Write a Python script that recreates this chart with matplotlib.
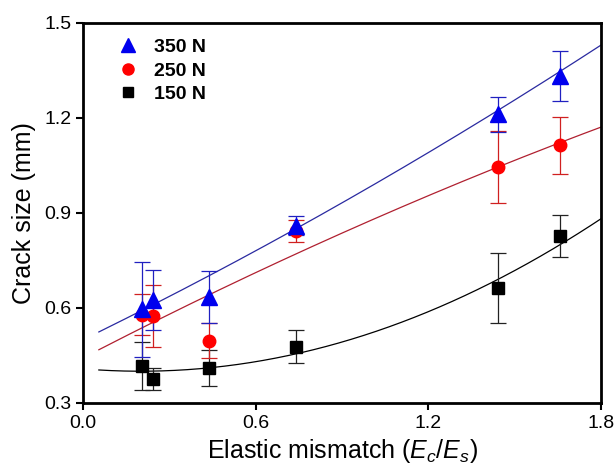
import numpy as np
import matplotlib.pyplot as plt
from matplotlib.lines import Line2D

plt.rcParams['font.family'] = ['Liberation Sans', 'DejaVu Sans']
plt.rcParams['mathtext.fontset'] = 'custom'
plt.rcParams['mathtext.it'] = 'Liberation Sans:italic'
plt.rcParams['mathtext.rm'] = 'Liberation Sans'

# measured points
x = [0.205, 0.243, 0.438, 0.74, 1.442, 1.657]

y350 = [0.595, 0.625, 0.635, 0.86, 1.212, 1.333]
e350 = [0.15, 0.095, 0.082, 0.03, 0.055, 0.08]

y250 = [0.578, 0.575, 0.497, 0.843, 1.045, 1.114]
e250 = [0.065, 0.097, 0.055, 0.035, 0.115, 0.09]

y150 = [0.417, 0.375, 0.41, 0.478, 0.663, 0.827]
e150 = [0.075, 0.035, 0.058, 0.053, 0.11, 0.066]

# quadratic fit coefficients (a + b x + c x^2)
fit350 = [0.4995, 0.4436, 0.0407]
fit250 = [0.442, 0.471, -0.0367]
fit150 = [0.4075, -0.0752, 0.188]

labels = ['350 N', '250 N', '150 N']

fig = plt.figure(figsize=(6.15, 4.69), dpi=100)
ax = fig.add_axes([0.135, 0.141, 0.842, 0.81])

xf = np.linspace(0.055, 1.8, 200)
def quad(c, t):
    return c[0] + c[1]*t + c[2]*t**2

ax.plot(xf, quad(fit350, xf), color='#2a2aa0', lw=0.9)
ax.plot(xf, quad(fit250, xf), color='#b02030', lw=0.9)
ax.plot(xf, quad(fit150, xf), color='black', lw=0.9)

ax.errorbar(x, y150, yerr=e150, fmt='s', color='black', ms=8.5,
            ecolor='#222222', elinewidth=0.9, capsize=6, capthick=0.9)
ax.errorbar(x, y250, yerr=e250, fmt='o', color='red', ms=9,
            ecolor='#d02020', elinewidth=0.9, capsize=6, capthick=0.9)
ax.errorbar(x, y350, yerr=e350, fmt='^', color='#0000ee', ms=11,
            ecolor='#2020c0', elinewidth=0.9, capsize=6, capthick=0.9)

ax.set_xlim(0, 1.8)
ax.set_ylim(0.3, 1.5)
ax.set_xticks([0.0, 0.6, 1.2, 1.8])
ax.set_yticks([0.3, 0.6, 0.9, 1.2, 1.5])
ax.set_xticklabels(['0.0', '0.6', '1.2', '1.8'])
ax.set_yticklabels(['0.3', '0.6', '0.9', '1.2', '1.5'])
ax.tick_params(direction='out', length=5, width=1.5, labelsize=14)
for s in ax.spines.values():
    s.set_linewidth(2)

ax.set_xlabel('Elastic mismatch ($E_c$/$E_s$)', fontsize=18, labelpad=4)
ax.set_ylabel('Crack size (mm)', fontsize=18, labelpad=6)

handles = [Line2D([], [], ls='none', marker='^', color='#0000ee', ms=10),
           Line2D([], [], ls='none', marker='o', color='red', ms=8),
           Line2D([], [], ls='none', marker='s', color='black', ms=7)]
ax.legend(handles, labels, loc='upper left', frameon=False,
          prop={'weight': 'bold', 'size': 14}, handletextpad=0.6,
          labelspacing=0.3, bbox_to_anchor=(0.025, 1.005), handlelength=1.5)

fig.savefig('out.png', dpi=100)
